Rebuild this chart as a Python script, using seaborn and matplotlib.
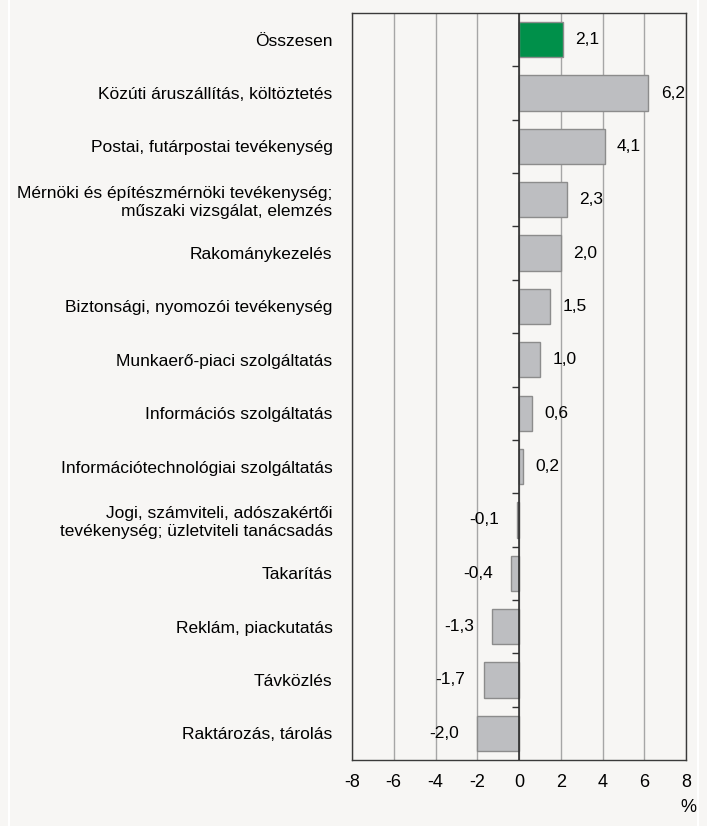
import matplotlib
matplotlib.use("Agg")
import matplotlib.pyplot as plt
from matplotlib.lines import Line2D
import seaborn as sns
import pandas as pd

categories = [
    "Összesen",
    "Közúti áruszállítás, költöztetés",
    "Postai, futárpostai tevékenység",
    "Mérnöki és építészmérnöki tevékenység;\nműszaki vizsgálat, elemzés",
    "Rakománykezelés",
    "Biztonsági, nyomozói tevékenység",
    "Munkaerő-piaci szolgáltatás",
    "Információs szolgáltatás",
    "Információtechnológiai szolgáltatás",
    "Jogi, számviteli, adószakértői\ntevékenység; üzletviteli tanácsadás",
    "Takarítás",
    "Reklám, piackutatás",
    "Távközlés",
    "Raktározás, tárolás",
]
values = [2.1, 6.2, 4.1, 2.3, 2.0, 1.5, 1.0, 0.6, 0.2, -0.1, -0.4, -1.3, -1.7, -2.0]
x_ticks = [-8, -6, -4, -2, 0, 2, 4, 6, 8]

bg = "#f7f6f4"
green = "#00904a"
grey = "#bdbec1"

df = pd.DataFrame({"cat": categories, "val": values})
colors = [green] + [grey] * (len(values) - 1)

sns.set_theme(style="white")
plt.rcParams["font.family"] = ["Liberation Sans", "DejaVu Sans"]
plt.rcParams["text.color"] = "black"
plt.rcParams["xtick.color"] = "black"
plt.rcParams["ytick.color"] = "black"

fig = plt.figure(figsize=(7.07, 8.26), dpi=100, facecolor=bg)
ax = fig.add_axes([352 / 707, 66 / 826, 334 / 707, 747 / 826])
ax.set_facecolor(bg)

sns.barplot(data=df, x="val", y="cat", hue="cat", palette=colors, legend=False,
            orient="h", width=0.66, saturation=1, edgecolor="#8c8c8c",
            linewidth=1, ax=ax, zorder=3)

ax.set_xlim(-8, 8)
ax.set_ylim(len(values) - 0.5, -0.5)
ax.set_xticks(x_ticks)
ax.set_xticklabels([str(t) for t in x_ticks], fontsize=13)
ax.grid(axis="x", color="#a6a6a6", linewidth=1, zorder=0)
ax.grid(axis="y", visible=False)
ax.tick_params(axis="x", direction="out", length=5, width=1, color="#333333", pad=5)
ax.tick_params(axis="y", length=0, pad=14, labelsize=12.5)
ax.set_yticks(range(len(categories)))
ax.set_yticklabels(categories, multialignment="right")
ax.set_xlabel("")
ax.set_ylabel("")
for s in ax.spines.values():
    s.set_visible(True)
    s.set_color("#3a3a3a")
    s.set_linewidth(1)
ax.axvline(0, color="#222222", linewidth=1.1, zorder=4)

# boundary ticks on the zero line, pointing left
sec = ax.secondary_yaxis(0.5)
sec.set_yticks([i + 0.5 for i in range(len(values) - 1)])
sec.set_yticklabels([])
sec.tick_params(axis="y", direction="in", length=5, width=1, color="#333333")
for s in sec.spines.values():
    s.set_visible(False)

for i, v in enumerate(values):
    txt = f"{v:.1f}".replace(".", ",")
    if v >= 0:
        ax.annotate(txt, (v, i), xytext=(9, 0), textcoords="offset points",
                    ha="left", va="center", fontsize=12.5, zorder=5)
    else:
        ax.annotate(txt, (v, i), xytext=(-13, 0), textcoords="offset points",
                    ha="right", va="center", fontsize=12.5, zorder=5)

fig.text(688 / 707, 1 - 808 / 826, "%", ha="center", va="center", fontsize=13)

# thin white frame strips at the panel edges
for xpx in (9, 698):
    fig.add_artist(Line2D([xpx / 707, xpx / 707], [0, 1], color="white",
                          linewidth=1.5, transform=fig.transFigure))

fig.savefig("out.png", dpi=100, facecolor=bg)
